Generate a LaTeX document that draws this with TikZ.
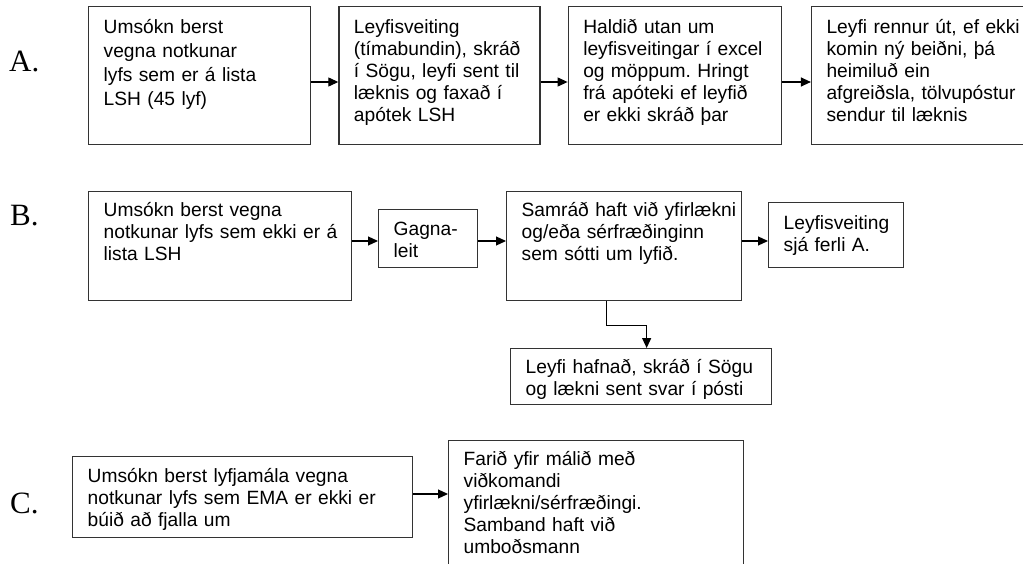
\documentclass[tikz,border=0pt]{standalone}
\usepackage{fontspec}
\setmainfont{Liberation Sans}
\newfontfamily\labelfont{Liberation Serif}
\usetikzlibrary{arrows.meta, positioning}

\definecolor{boxline}{HTML}{333333}
\frenchspacing

\tikzset{
    stepbox/.style n args={3}{draw=boxline, line width=1.3pt, anchor=north west,
        inner sep=0pt, align=left, text width=#1, text height=#3,
        text depth=#2-#3, execute at begin node={\leftskip=15pt}},
    rowA/.style={font=\fontsize{19.2}{22}\selectfont},
    rowBC/.style={font=\fontsize{19.2}{22}\selectfont},
    rowlabel/.style={anchor=base west, inner sep=0pt, font=\labelfont\fontsize{31}{31}\selectfont},
    flow/.style={draw=black, line width=1.2pt, -{Triangle[length=10pt,width=9pt]}}
}

\begin{document}
\begin{tikzpicture}[x=1pt, y=-1pt]
        \useasboundingbox (0,0) rectangle (1023,564);
        \fill[white] (0,0) rectangle (1023,564);
        \clip (0,0) rectangle (1023,564);

        % Row labels
        \node[rowlabel] (labA) at (9,72) {A.};
        \node[rowlabel] (labB) at (10,226) {B.};
        \node[rowlabel] (labC) at (10,513) {C.};

        % Process A
        \node[stepbox={222pt}{138pt}{27pt}, rowA, font=\fontsize{19.2}{24}\selectfont] (a1) at (88,6)
            {Umsókn berst\\vegna notkunar\\lyfs sem er á lista\\LSH (45 lyf)};
        \node[stepbox={201pt}{138pt}{27pt}, rowA, right=27pt of a1] (a2)
            {Leyfisveiting\\(tímabundin), skráð\\í Sögu, leyfi sent til\\læknis og faxað í\\apótek LSH};
        \node[stepbox={213pt}{138pt}{27pt}, rowA, right=27pt of a2] (a3)
            {Haldið utan um\\leyfisveitingar í excel\\og möppum. Hringt\\frá apóteki ef leyfið\\er ekki skráð þar};
        \node[stepbox={228pt}{138pt}{27pt}, rowA, right=29pt of a3] (a4)
            {Leyfi rennur út, ef ekki\\komin ný beiðni, þá\\heimiluð ein\\afgreiðsla, tölvupóstur\\sendur til læknis};

        % Process B
        \node[stepbox={263pt}{109pt}{25pt}, rowBC] (b1) at (88,191)
            {Umsókn berst vegna\\notkunar lyfs sem ekki er á\\lista LSH};
        \node[stepbox={99pt}{58pt}{26pt}, rowBC] (b2) at (378,209)
            {Gagna-\\leit};
        \node[stepbox={235pt}{109pt}{25pt}, rowBC] (b3) at (506,191)
            {Samráð haft við yfirlækni\\og/eða sérfræðinginn\\sem sótti um lyfið.};
        \node[stepbox={135pt}{65pt}{27pt}, rowBC] (b4) at (768,202)
            {Leyfisveiting\\sjá ferli A.};
        \node[stepbox={261pt}{56pt}{25pt}, rowBC] (b5) at (510,348)
            {Leyfi hafnað, skráð í Sögu\\og lækni sent svar í pósti};

        % Process C
        \node[stepbox={340pt}{81pt}{26pt}, rowBC] (c1) at (72,456)
            {Umsókn berst lyfjamála vegna\\notkunar lyfs sem EMA er ekki er\\búið að fjalla um};
        \node[stepbox={295pt}{140pt}{25pt}, rowBC] (c2) at (448,440)
            {Farið yfir málið með\\viðkomandi\\yfirlækni/sérfræðingi.\\Samband haft við\\umboðsmann};

        % Arrow levels
        \coordinate (levA) at (0,82);
        \coordinate (levB) at (0,241);
        \coordinate (levC) at (0,494);

        % Connectors
        \draw[flow] (a1.east |- levA) -- (a2.west |- levA);
        \draw[flow] (a2.east |- levA) -- (a3.west |- levA);
        \draw[flow] (a3.east |- levA) -- (a4.west |- levA);
        \draw[flow] (b1.east |- levB) -- (b2.west |- levB);
        \draw[flow] (b2.east |- levB) -- (b3.west |- levB);
        \draw[flow] (b3.east |- levB) -- (b4.west |- levB);
        \draw[flow] ([xshift=-17.5pt]b3.south) -- ++(0,24) -| ([xshift=5.5pt]b5.north);
        \draw[flow] (c1.east |- levC) -- (c2.west |- levC);
    \end{tikzpicture}
\end{document}
